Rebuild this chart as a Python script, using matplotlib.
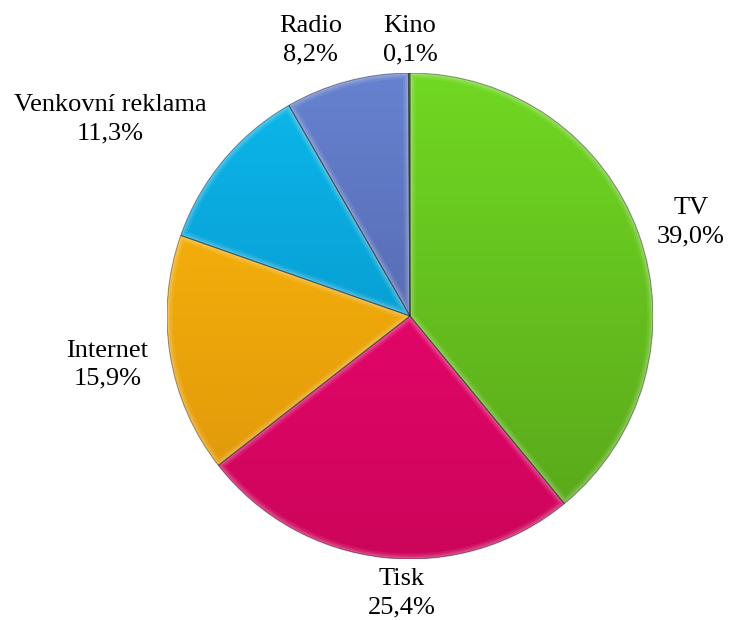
import matplotlib.pyplot as plt
import numpy as np

# ad spend share by media type
media = ['TV', 'Tisk', 'Internet', 'Venkovní reklama', 'Radio', 'Kino']
shares = [39.0, 25.4, 15.9, 11.3, 8.2, 0.1]

# top / bottom colours of each slice gradient
top_cols = ['#70d822', '#f80478', '#ffbc0a', '#0cb8ec', '#6682d0', '#4a6030']
bot_cols = ['#58a41a', '#cc065a', '#dc920a', '#0488bc', '#4a5898', '#3a5020']

# label anchors in data units (pie radius = 1)
label_xy = [(1.155, 0.385), (-0.035, -1.14), (-1.245, -0.20),
            (-1.235, 0.81), (-0.41, 1.135), (0.0, 1.135)]

fig = plt.figure(figsize=(7.3, 6.2), dpi=100)
R = 243
cx, cy = 410, 620 - 316
ax = fig.add_axes([(cx - R) / 730, (cy - R) / 620, 2 * R / 730, 2 * R / 620])

wedges, _ = ax.pie(shares, startangle=90, counterclock=False, radius=1,
                   wedgeprops=dict(linewidth=0, facecolor='none'))

yy = np.linspace(1, -1, 300)[:, None]
t = (1 - yy) / 2
for w, c0, c1 in zip(wedges, top_cols, bot_cols):
    a = np.array(plt.matplotlib.colors.to_rgb(c0))
    b = np.array(plt.matplotlib.colors.to_rgb(c1))
    img = a[None, None, :] * (1 - t[..., None]) + b[None, None, :] * t[..., None]
    img = np.repeat(img, 2, axis=1)
    im = ax.imshow(img, extent=[-1, 1, -1, 1], origin='upper', zorder=1,
                   interpolation='bilinear')
    im.set_clip_path(w)
    # soft bevel along the slice border
    for lw, al in [(8, 0.08), (5, 0.11), (2.5, 0.15)]:
        ax.add_patch(plt.matplotlib.patches.Wedge(
            w.center, w.r, w.theta1, w.theta2, facecolor='none',
            edgecolor='white', linewidth=lw, alpha=al, zorder=2,
            clip_path=w))
    ax.add_patch(plt.matplotlib.patches.Wedge(
        w.center, w.r, w.theta1, w.theta2, facecolor='none',
        edgecolor='#000000', linewidth=0.8, alpha=0.35, zorder=3))

ax.set_xlim(-1, 1)
ax.set_ylim(-1, 1)
ax.set_aspect('equal')
ax.axis('off')

for name, val, (x, y) in zip(media, shares, label_xy):
    ax.text(x, y, f'{name}\n{val:.1f}%'.replace('.', ','), ha='center',
            va='center', fontsize=19, family='Liberation Serif',
            linespacing=1.35, color='black')

fig.savefig('out.png', dpi=100)
